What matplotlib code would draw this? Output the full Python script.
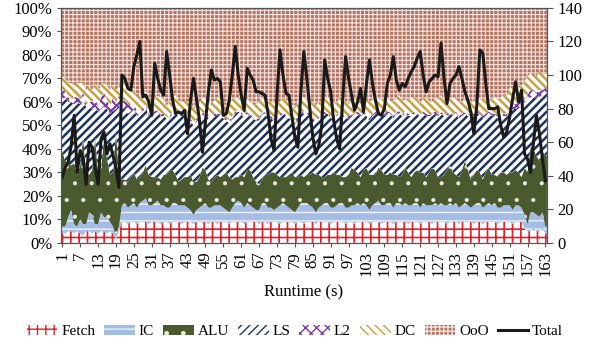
import numpy as np
import matplotlib
matplotlib.use("Agg")
import matplotlib.pyplot as plt
from matplotlib.patches import Patch
from matplotlib.lines import Line2D

plt.rcParams['font.family'] = ['Liberation Serif', 'DejaVu Serif']

runtime = np.arange(1, 164)

fetch = [4, 4, 5, 5, 4, 5, 4, 3, 5, 5,
         4, 5, 4, 5, 5, 4, 5, 4, 2, 5,
         9, 9, 8, 9, 9, 8, 9, 9, 9, 8,
         9, 9, 9, 8, 9, 9, 8, 9, 9, 9,
         8, 9, 9, 9, 8, 9, 9, 9, 9, 8,
         9, 9, 8, 9, 9, 9, 8, 9, 9, 9,
         9, 8, 9, 9, 9, 9, 8, 9, 9, 8,
         9, 9, 9, 8, 9, 9, 9, 9, 8, 9,
         9, 8, 9, 9, 9, 8, 9, 9, 9, 9,
         8, 9, 9, 9, 9, 8, 9, 9, 8, 9,
         9, 9, 9, 8, 9, 9, 9, 8, 9, 9,
         9, 8, 9, 9, 9, 9, 8, 9, 9, 9,
         8, 9, 9, 9, 8, 9, 9, 9, 9, 8,
         9, 9, 9, 8, 9, 9, 9, 9, 8, 9,
         9, 8, 9, 9, 9, 9, 8, 9, 9, 9,
         9, 8, 9, 9, 9, 6, 5, 5, 6, 5,
         5, 6, 4]

ic = [3, 3, 6, 9, 4, 2, 6, 5, 3, 8,
      8, 3, 4, 8, 6, 7, 4, 3, 1, 2,
      7, 8, 7, 7, 8, 7, 8, 9, 10, 8,
      7, 8, 9, 8, 7, 6, 7, 8, 8, 7,
      8, 7, 6, 5, 4, 5, 6, 7, 8, 7,
      6, 7, 8, 7, 6, 5, 5, 6, 8, 9,
      8, 7, 8, 7, 6, 5, 6, 8, 8, 7,
      6, 5, 6, 8, 8, 7, 6, 5, 5, 6,
      8, 9, 8, 7, 6, 5, 6, 7, 8, 8,
      7, 6, 7, 8, 8, 7, 6, 7, 8, 8,
      7, 8, 7, 6, 7, 8, 9, 8, 7, 8,
      8, 7, 8, 8, 7, 8, 8, 7, 8, 8,
      7, 8, 7, 7, 8, 8, 7, 8, 7, 8,
      8, 7, 8, 7, 7, 8, 7, 6, 8, 8,
      8, 7, 7, 8, 7, 8, 7, 6, 7, 7,
      7, 6, 7, 7, 6, 6, 3, 8, 7, 7,
      6, 7, 3]

alu = [32, 28, 23, 19, 26, 22, 23, 37, 22, 16,
       19, 37, 22, 19, 33, 25, 20, 23, 44, 23,
       11, 10, 11, 12, 13, 12, 11, 12, 14, 13,
       12, 11, 10, 11, 13, 14, 16, 14, 12, 10,
       11, 12, 13, 15, 14, 12, 13, 16, 14, 12,
       11, 12, 13, 12, 14, 16, 15, 12, 11, 10,
       12, 13, 14, 15, 13, 12, 11, 10, 12, 14,
       15, 16, 14, 12, 11, 12, 14, 16, 15, 13,
       12, 11, 12, 13, 15, 16, 14, 12, 11, 12,
       14, 15, 13, 12, 11, 13, 14, 16, 15, 13,
       12, 14, 16, 15, 13, 12, 14, 15, 13, 12,
       13, 14, 12, 11, 13, 15, 14, 12, 13, 14,
       15, 13, 12, 14, 16, 14, 12, 11, 13, 15,
       16, 14, 12, 13, 15, 18, 15, 12, 13, 14,
       13, 12, 14, 15, 13, 12, 13, 15, 14, 13,
       14, 16, 15, 14, 13, 20, 22, 28, 27, 25,
       24, 26, 30]

ls = [22, 27, 26, 27, 25, 31, 26, 15, 28, 29,
      26, 13, 26, 25, 14, 21, 26, 26, 10, 28,
      30, 30, 29, 28, 27, 27, 27, 26, 25, 25,
      26, 27, 28, 27, 25, 24, 22, 24, 26, 28,
      27, 26, 25, 23, 24, 26, 25, 22, 24, 26,
      27, 26, 25, 26, 24, 22, 23, 26, 27, 28,
      26, 25, 24, 23, 25, 26, 27, 28, 26, 24,
      23, 22, 24, 26, 27, 26, 24, 22, 23, 25,
      26, 27, 26, 25, 23, 22, 24, 26, 27, 26,
      24, 23, 25, 26, 27, 25, 24, 22, 23, 25,
      26, 24, 22, 23, 25, 26, 24, 23, 25, 26,
      25, 24, 26, 27, 25, 23, 24, 26, 25, 24,
      23, 25, 26, 24, 22, 24, 26, 27, 25, 23,
      22, 24, 26, 25, 23, 20, 23, 26, 25, 24,
      25, 26, 24, 23, 25, 26, 25, 23, 24, 25,
      27, 27, 26, 28, 30, 28, 31, 21, 22, 25,
      27, 24, 27]

l2 = [4, 3, 2, 1, 3, 2, 2, 4, 1, 2,
      3, 4, 2, 5, 6, 4, 3, 6, 2, 5,
      3, 4, 4, 3, 3, 2, 2, 1, 1, 1,
      1, 1, 0.5, 1, 1, 0.5, 1, 1, 1, 0.5,
      1, 0.5, 1, 1, 1, 1, 0.5, 1, 1, 1,
      0.5, 1, 1, 1, 0.5, 1, 1, 1, 1, 0.5,
      1, 1, 1, 0.5, 1, 1, 1, 1, 0.5, 1,
      1, 0.5, 1, 1, 1, 0.5, 1, 1, 1, 1,
      0.5, 1, 1, 1, 1, 0.5, 1, 1, 1, 0.5,
      1, 1, 0.5, 1, 1, 1, 1, 0.5, 1, 1,
      1, 0.5, 1, 1, 1, 1, 0.5, 1, 1, 1,
      0.5, 1, 1, 1, 0.5, 1, 1, 1, 1, 0.5,
      1, 1, 1, 0.5, 1, 1, 1, 1, 0.5, 1,
      1, 0.5, 1, 1, 1, 0.5, 1, 1, 1, 1,
      0.5, 1, 1, 1, 1, 0.5, 1, 1, 1, 1,
      1, 2, 2, 3, 2, 1, 2, 3, 3, 2,
      3, 2, 2]

dc = [6, 5, 6, 7, 5, 6, 7, 5, 6, 7,
      5, 6, 7, 5, 4, 6, 7, 5, 6, 4,
      8, 8, 7, 7, 6, 6, 6, 6, 6, 6,
      6, 5, 6, 7, 6, 5, 6, 6, 7, 6,
      5, 6, 6, 7, 6, 5, 6, 7, 6, 6,
      5, 6, 7, 6, 5, 6, 6, 7, 6, 5,
      6, 7, 6, 6, 5, 6, 7, 6, 5, 6,
      6, 7, 6, 5, 6, 6, 7, 6, 5, 6,
      7, 6, 5, 6, 6, 7, 6, 5, 6, 7,
      6, 6, 5, 6, 7, 6, 5, 6, 6, 7,
      6, 5, 6, 7, 6, 6, 5, 6, 7, 6,
      5, 6, 6, 7, 6, 5, 6, 7, 6, 6,
      5, 6, 7, 6, 5, 6, 6, 7, 6, 5,
      6, 7, 6, 6, 5, 6, 7, 6, 5, 6,
      6, 7, 6, 5, 6, 7, 7, 8, 8, 7,
      8, 7, 7, 6, 7, 8, 8, 7, 6, 7,
      8, 7, 6]

total = [39, 45, 48, 58, 76, 42, 55, 50, 35, 60,
         57, 45, 35, 62, 66, 53, 59, 52, 45, 33,
         100, 98, 92, 91, 105, 112, 120, 87, 88, 84,
         76, 107, 98, 91, 88, 114, 100, 85, 77, 78,
         77, 79, 65, 85, 98, 86, 73, 54, 72, 90,
         103, 97, 98, 96, 76, 77, 85, 100, 117, 100,
         88, 79, 104, 100, 97, 90, 90, 89, 88, 77,
         62, 55, 88, 115, 100, 89, 88, 75, 63, 57,
         90, 114, 98, 80, 63, 53, 58, 70, 109, 98,
         90, 73, 62, 56, 85, 111, 98, 88, 79, 84,
         92, 78, 95, 109, 95, 85, 77, 76, 80, 95,
         100, 111, 97, 91, 95, 93, 98, 102, 105, 110,
         114, 100, 90, 96, 98, 100, 99, 119, 98, 83,
         95, 98, 100, 105, 98, 90, 85, 78, 65, 82,
         115, 113, 95, 80, 80, 80, 81, 70, 63, 66,
         75, 86, 96, 84, 91, 53, 50, 42, 60, 76,
         65, 50, 37]

names = ['Fetch', 'IC', 'ALU', 'LS', 'L2', 'DC', 'OoO']
# (face, hatch colour, hatch, hatch width)
styles = [('white', '#E0202A', '++', 1.2),
          ('#A3BDE6', '#EEF3FB', '--', 1.0),
          ('#4A5A2E', '#E8ECDD', '.', 0.5),
          ('white', '#1F3560', '////', 1.8),
          ('white', '#7A3AA6', 'xxx', 1.6),
          ('white', '#C9A03A', '\\\\\\\\', 1.8),
          ('#B57463', '#F3E2DB', '++++', 0.8)]

layers = np.array([fetch, ic, alu, ls, l2, dc], dtype=float)
ooo = 100 - layers.sum(axis=0)   # out-of-order share fills the stack to 100%
layers = np.vstack([layers, ooo])

# pad the ends so the areas run to the plot edges
xs = np.concatenate([[0.5], runtime, [163.5]])
layers_p = np.pad(layers, ((0, 0), (1, 1)), mode='edge')

fig = plt.figure(figsize=(5.9, 3.45), dpi=100)
ax = fig.add_axes([0.103, 0.296, 0.824, 0.681])

base = np.zeros(len(xs))
handles = []
for name, vals, (face, hcol, hatch, hw) in zip(names, layers_p, styles):
    with plt.rc_context({'hatch.linewidth': hw}):
        ax.fill_between(xs, base, base + vals, facecolor=face, edgecolor=hcol,
                        hatch=hatch, linewidth=0)
        handles.append(Patch(facecolor=face, edgecolor=hcol, hatch=hatch,
                             linewidth=0, label=name))
    base = base + vals

ax.set_xlim(0.5, 163.5)
ax.set_ylim(0, 100)
ax.set_yticks(np.arange(0, 101, 10))
ax.set_yticklabels([f'{v}%' for v in range(0, 101, 10)])
ax.set_xticks(runtime[::6])
ax.set_xticklabels([str(v) for v in runtime[::6]], rotation=90)
ax.tick_params(axis='both', labelsize=12, length=3, color='#555555', pad=3)
ax.set_xlabel('Runtime (s)', fontsize=12, labelpad=6)
for s in ax.spines.values():
    s.set_color('#555555')

ax2 = ax.twinx()
ax2.plot(runtime, total, color='#1a1a1a', linewidth=2.2)
ax2.set_ylim(0, 140)
ax2.set_yticks(np.arange(0, 141, 20))
ax2.tick_params(axis='y', labelsize=12, length=4, color='#555555')
for s in ax2.spines.values():
    s.set_color('#555555')

handles.append(Line2D([0], [0], color='#1a1a1a', linewidth=2.2, label='Total'))
fig.legend(handles=handles, loc='lower center', ncol=8, frameon=False,
           bbox_to_anchor=(0.5, -0.02), fontsize=11, handlelength=2.0,
           handleheight=0.6, columnspacing=0.6, handletextpad=0.25)

fig.savefig('out.png', dpi=100)
